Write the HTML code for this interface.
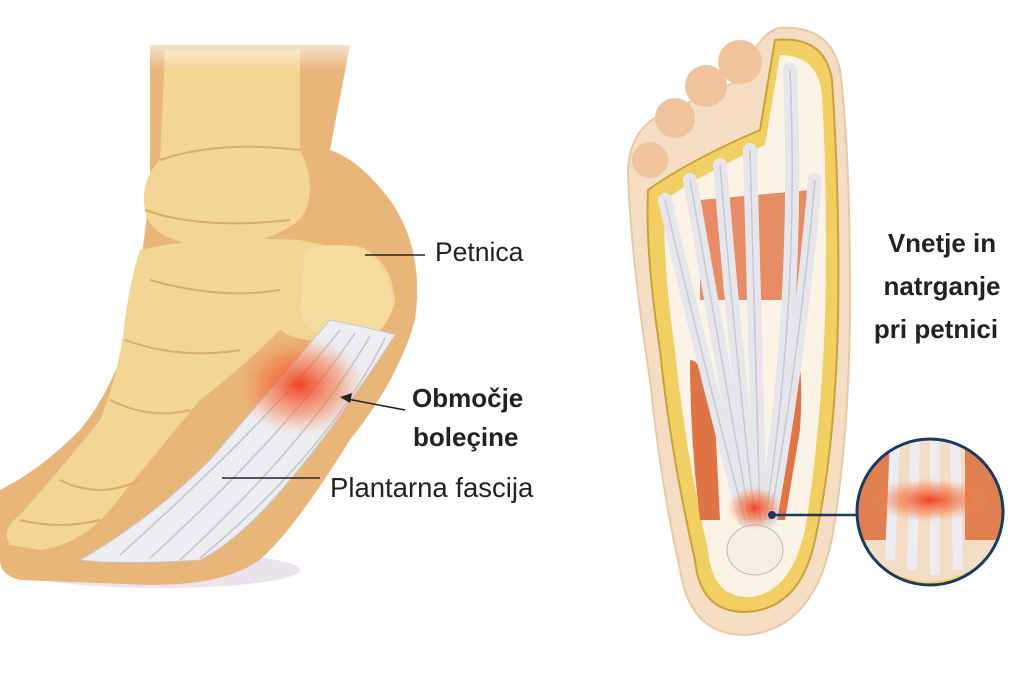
<!DOCTYPE html>
<html><head><meta charset="utf-8"><style>
html,body{margin:0;padding:0;background:#fff;}
svg{display:block;}
text{font-family:"Liberation Sans",sans-serif;}
</style></head><body>
<svg width="1024" height="683" viewBox="0 0 1024 683" xmlns="http://www.w3.org/2000/svg">
<defs>
<radialGradient id="red" cx="0.5" cy="0.5" r="0.5">
<stop offset="0" stop-color="#f03a1a" stop-opacity="0.95"/>
<stop offset="0.6" stop-color="#f5713a" stop-opacity="0.5"/>
<stop offset="1" stop-color="#f5a070" stop-opacity="0"/>
</radialGradient>
<linearGradient id="fade" x1="0" y1="0" x2="0" y2="1">
<stop offset="0" stop-color="#fff" stop-opacity="1"/>
<stop offset="1" stop-color="#fff" stop-opacity="0"/>
</linearGradient>
<clipPath id="circ"><circle cx="930" cy="512" r="73"/></clipPath>
</defs>
<rect width="1024" height="683" fill="#fff"/>
<ellipse cx="160" cy="570" rx="140" ry="18" fill="#ece4ec"/>
<path d="M150 45 L350 45 L330 150 Q360 160 390 200 Q425 250 415 320 Q398 380 350 440 Q300 520 270 550 Q240 585 150 585 L20 580 Q0 575 0 560 L0 490 Q40 470 80 430 Q120 380 130 320 Q145 250 150 180 Z" fill="#e8b679"/>
<path d="M165 50 L300 50 L300 150 Q320 190 300 220 Q260 250 200 245 Q150 240 145 210 Q140 180 160 160 Z" fill="#f3d594"/>
<path d="M140 250 Q200 235 300 240 Q340 250 355 245 Q390 255 395 300 Q390 335 345 340 Q300 345 280 330 Q240 370 200 400 Q150 460 110 510 Q80 545 40 550 L10 545 Q0 530 20 515 Q60 470 100 420 Q120 370 125 320 Q130 280 140 250 Z" fill="#f3d594"/>
<path d="M305 250 Q340 240 365 250 Q395 275 392 310 Q380 345 340 342 Q305 335 300 310 Z" fill="#f6dc9e"/>
<g stroke="#d9ad66" stroke-width="2" fill="none">
<path d="M160 160 Q220 140 300 150"/><path d="M145 210 Q200 230 290 220"/>
<path d="M150 280 Q220 300 280 290"/><path d="M125 340 Q180 360 240 350"/>
<path d="M110 400 Q150 420 190 410"/><path d="M60 480 Q100 500 140 480"/>
<path d="M20 520 Q60 530 100 520"/>
</g>
<path d="M330 320 Q380 330 395 335 Q340 420 290 480 Q240 540 200 560 Q120 565 80 560 Q150 520 210 460 Q270 390 330 320 Z" fill="#eeeef2" stroke="#c8c8d0" stroke-width="1"/>
<g stroke="#c4c4cc" stroke-width="1.5" fill="none">
<path d="M340 330 Q270 420 120 555"/><path d="M355 333 Q290 430 150 558"/>
<path d="M370 336 Q310 440 180 560"/><path d="M385 338 Q330 450 200 558"/>
</g>
<ellipse cx="300" cy="385" rx="65" ry="50" fill="url(#red)"/>
<rect x="100" y="30" width="280" height="40" fill="url(#fade)"/>
<line x1="365" y1="255" x2="425" y2="255" stroke="#222" stroke-width="1.5"/>
<text x="435" y="261" font-size="26.5" fill="#222">Petnica</text>
<line x1="405" y1="410" x2="342" y2="398" stroke="#222" stroke-width="1.5"/>
<path d="M340 397 L352 393 L350 403 Z" fill="#222"/>
<text x="412" y="407" font-size="26" font-weight="bold" fill="#222">Območje</text>
<text x="413" y="446" font-size="26" font-weight="bold" fill="#222">boleçine</text>
<line x1="222" y1="478" x2="320" y2="478" stroke="#222" stroke-width="1.5"/>
<text x="330" y="497" font-size="27.5" fill="#222">Plantarna fascija</text>
<path d="M780 28 Q830 25 840 70 Q850 150 850 300 Q850 420 835 520 Q820 630 745 635 Q690 635 680 570 Q660 480 650 380 Q630 250 628 170 Q630 130 660 115 L740 80 Q760 30 780 28 Z" fill="#f4ddc2" stroke="#e8c9a6" stroke-width="2"/>
<circle cx="650" cy="160" r="18" fill="#f0c39c"/>
<circle cx="675" cy="118" r="20" fill="#f0c39c"/>
<circle cx="706" cy="86" r="21" fill="#f0c39c"/>
<circle cx="740" cy="62" r="22" fill="#f0c39c"/>
<path d="M775 40 Q825 35 832 80 Q840 200 838 320 Q835 450 815 540 Q800 610 745 612 Q700 612 695 560 Q670 450 660 350 Q645 250 648 190 Q690 160 760 130 Z" fill="#f2cf62" stroke="#c9a23c" stroke-width="2"/>
<path d="M780 55 Q818 55 822 95 Q828 200 825 320 Q820 440 805 530 Q790 595 748 597 Q712 597 708 550 Q685 450 675 350 Q662 260 665 200 Q700 175 765 145 Z" fill="#fbf3e6"/>
<path d="M700 200 L810 190 L805 300 L700 300 Z" fill="#e27a4e" opacity="0.85"/>
<path d="M690 360 Q705 360 715 420 L720 520 L700 520 Q690 440 690 360 Z" fill="#df7445"/>
<path d="M790 340 Q805 350 800 430 L785 520 L770 520 Q780 420 790 340 Z" fill="#df7445"/>
<g stroke="#e6e6ec" stroke-width="14" fill="none" stroke-linecap="round">
<path d="M665 200 Q700 350 745 520"/><path d="M690 180 Q720 350 750 520"/>
<path d="M720 165 Q735 350 755 520"/><path d="M750 150 Q755 350 760 520"/>
<path d="M790 70 Q800 300 765 520"/><path d="M815 180 Q800 350 770 520"/>
</g>
<g stroke="#c8c8d2" stroke-width="1.5" fill="none">
<path d="M665 200 Q700 350 745 520"/><path d="M690 180 Q720 350 750 520"/>
<path d="M720 165 Q735 350 755 520"/><path d="M750 150 Q755 350 760 520"/>
<path d="M790 70 Q800 300 765 520"/><path d="M815 180 Q800 350 770 520"/>
</g>
<ellipse cx="755" cy="550" rx="28" ry="25" fill="#f4efe6" stroke="#bbb"/>
<ellipse cx="755" cy="508" rx="28" ry="22" fill="url(#red)"/>
<line x1="770" y1="515" x2="860" y2="515" stroke="#1b3a63" stroke-width="2.5"/>
<circle cx="772" cy="515" r="4" fill="#1b3a63"/>
<g clip-path="url(#circ)">
<rect x="855" y="435" width="150" height="160" fill="#f3ddc5"/>
<rect x="855" y="440" width="40" height="100" fill="#e08050"/>
<rect x="965" y="440" width="40" height="100" fill="#e08050"/>
<g stroke="#ececf2" stroke-width="10"><line x1="895" y1="440" x2="890" y2="560"/><line x1="915" y1="440" x2="912" y2="570"/><line x1="935" y1="440" x2="935" y2="575"/><line x1="955" y1="440" x2="958" y2="570"/></g>
<ellipse cx="930" cy="500" rx="60" ry="22" fill="url(#red)"/>
<path d="M880 565 Q930 600 990 560 L990 600 L870 600 Z" fill="#f2cf62"/>
</g>
<circle cx="930" cy="512" r="73" fill="none" stroke="#1b3a63" stroke-width="3"/>
<g font-size="26" font-weight="bold" fill="#222" text-anchor="middle">
<text x="942" y="252">Vnetje in</text>
<text x="942" y="295">natrganje</text>
<text x="936" y="338">pri petnici</text>
</g>
</svg>
</body></html>
